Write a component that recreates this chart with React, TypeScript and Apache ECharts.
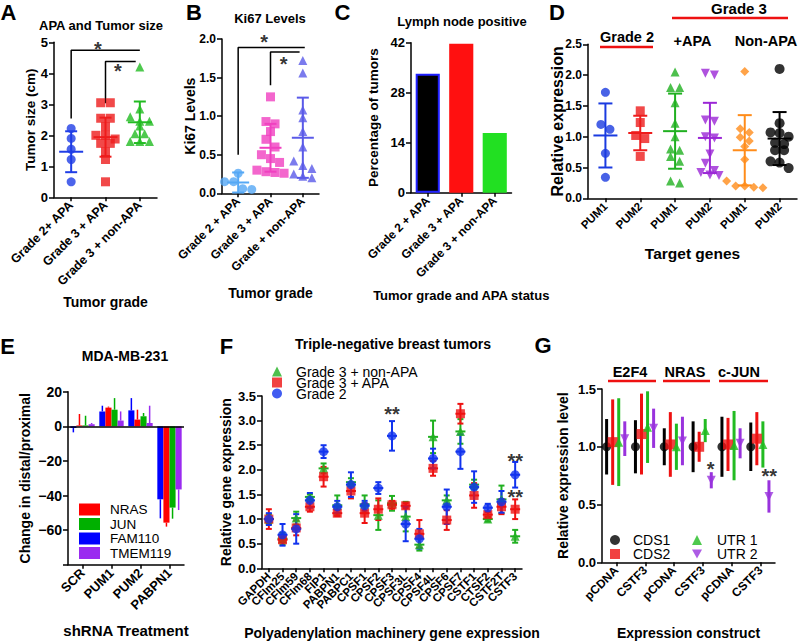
import React, { useEffect, useRef } from "react";
import * as echarts from "echarts";

const FONT = "'Liberation Sans', Arial, Helvetica, sans-serif";

// ---------- Panel A : APA and Tumor size ----------
const A_CATS = ["Grade 2+ APA", "Grade 3 + APA", "Grade 3 + non-APA"];
const A_G2_APA = [2.22, 1.9, 1.55, 1.22, 0.5];
const A_G3_APA = [3.05, 3.05, 2.55, 2.55, 2.28, 2.0, 2.0, 1.88, 1.74, 1.74, 1.47, 1.22, 0.5];
const A_G3_NON = [4.2, 2.85, 2.6, 2.45, 2.45, 2.3, 2.05, 2.05, 1.8, 1.8, 1.8];
const A_MEAN = [1.47, 1.94, 2.42];
const A_SD = [0.66, 0.63, 0.67];

// ---------- Panel B : Ki67 Levels ----------
const B_CATS = ["Grade 2 + APA", "Grade 3 + APA", "Grade + non-APA"];
const B_G2_APA = [0.26, 0.15, 0.15, 0.06, 0.05];
const B_G3_APA = [1.25, 0.93, 0.9, 0.8, 0.7, 0.6, 0.5, 0.45, 0.4, 0.3, 0.28, 0.27, 0.26];
const B_G3_NON = [1.72, 1.56, 1.08, 0.98, 0.8, 0.6, 0.42, 0.36, 0.32, 0.25, 0.22, 0.2];
const B_MEAN = [0.14, 0.59, 0.72];
const B_SD = [0.13, 0.31, 0.52];

// ---------- Panel C : Lymph node positive ----------
const C_CATS = ["Grade 2 + APA", "Grade 3 + APA", "Grade 3 + non-APA"];
const C_PCT = [33.3, 41.7, 16.7];

// ---------- Panel D : PUM1 / PUM2 ----------
const D_CATS = ["PUM1", "PUM2", "PUM1", "PUM2", "PUM1", "PUM2"];
const D_G2_PUM1 = [1.72, 1.2, 1.12, 0.73, 0.34];
const D_G2_PUM2 = [1.42, 1.23, 1.02, 0.97, 0.68];
const D_APA_PUM1 = [2.05, 1.8, 1.8, 1.55, 1.22, 1.0, 0.8, 0.78, 0.68, 0.6, 0.28, 0.25];
const D_APA_PUM2 = [2.03, 2.0, 1.27, 1.25, 1.0, 0.98, 0.72, 0.57, 0.45, 0.42, 0.38, 0.37];
const D_NON_PUM1 = [2.06, 1.13, 1.07, 0.99, 0.93, 0.84, 0.63, 0.28, 0.2, 0.2, 0.18, 0.17];
const D_NON_PUM2 = [2.1, 1.22, 1.07, 1.06, 1.0, 0.9, 0.88, 0.78, 0.78, 0.6, 0.58, 0.49];
const D_MEAN = [1.02, 1.06, 1.09, 0.98, 0.78, 0.97];
const D_SD = [0.52, 0.28, 0.61, 0.57, 0.57, 0.43];

// ---------- Panel E : MDA-MB-231 ----------
const E_CATS = ["SCR", "PUM1", "PUM2", "PABPN1"];
const E_FAM110 = [-1, 8.6, 9.2, -42.2];
const E_FAM110_ERR = [2.5, 3.3, 7.1, 11];
const E_NRAS = [0.5, 10.8, 3.9, -55.7];
const E_NRAS_ERR = [6.6, 0.6, 5.7, 2.3];
const E_JUN = [0.5, 9.6, 5.8, -47];
const E_JUN_ERR = [5.6, 6.7, 1.9, 6.4];
const E_TMEM119 = [1.2, 3.3, 1.9, -36.5];
const E_TMEM119_ERR = [0.7, 5.3, 10, 11.9];

// ---------- Panel F : Triple-negative breast tumors ----------
const F_GENES = ["GAPDH", "CFIm25", "CFIm59", "CFIm68", "FIP1", "PABPN1", "PABPC1", "CPSF1", "CPSF2", "CPSF3",
  "CPSF3L", "CPSF4", "CPSF4L", "CPSF6", "CPSF7", "CSTF1", "CTSF2", "CSTF2T", "CSTF3"];
const F_NON = [1.0, 0.6, 1.02, 1.45, 2.03, 1.28, 1.75, 1.3, 1.08, 1.32, 1.05, 0.48, 2.67, 1.38, 2.78, 1.7, 1.0, 1.4, 0.65];
const F_NON_ERR = [0.1, 0.12, 0.13, 0.05, 0.1, 0.2, 0.08, 0.18, 0.3, 0.15, 0.3, 0.12, 0.33, 0.1, 0.25, 0.1, 0.05, 0.28, 0.13];
const F_APA = [1.0, 0.58, 0.82, 1.25, 1.86, 1.12, 1.57, 1.12, 1.2, 1.29, 1.27, 0.7, 2.03, 0.98, 3.14, 1.48, 1.09, 1.25, 1.2];
const F_APA_ERR = [0.2, 0.05, 0.15, 0.1, 0.2, 0.06, 0.15, 0.2, 0.22, 0.08, 0.05, 0.28, 0.15, 0.2, 0.2, 0.25, 0.05, 0.15, 0.2];
const F_G2 = [1.0, 0.68, 0.8, 1.38, 2.37, 1.25, 1.7, 1.27, 1.63, 2.69, 0.9, 0.6, 2.23, 1.25, 2.37, 1.65, 1.23, 1.35, 1.9];
const F_G2_ERR = [0.12, 0.22, 0.3, 0.15, 0.13, 0.12, 0.25, 0.1, 0.12, 0.3, 0.35, 0.2, 0.2, 0.35, 0.35, 0.32, 0.08, 0.22, 0.26];

// ---------- Panel G : Expression construct ----------
const G_CATS = ["pCDNA", "CSTF3", "pCDNA", "CSTF3", "pCDNA", "CSTF3"];
const G_CDS1 = [1, 1, 1, 1, 1, 1];
const G_CDS1_ERR = [0.24, 0.23, 0.16, 0.22, 0.26, 0.21];
const G_CDS2 = [1.04, 1.11, 1.02, 1.0, 1.02, 1.07];
const G_CDS2_ERR = [0.37, 0.35, 0.28, 0.13, 0.23, 0.23];
const G_UTR1 = [1.04, 1.17, 1.0, 1.14, 1.01, 1.02];
const G_UTR1_ERR = [0.38, 0.31, 0.2, 0.1, 0.3, 0.2];
const G_UTR2 = [1.07, 1.16, 1.05, 0.71, 1.03, 0.57];
const G_UTR2_ERR = [0.15, 0.17, 0.21, 0.07, 0.13, 0.14];

// ---------- helpers ----------
const DOWN_TRI = "path://M0,0L10,0L5,9Z";

function jitter(vals: number[], cat: number, thr: number, step: number): number[][] {
  const s = [...vals].sort((a, b) => b - a);
  const out: number[][] = [];
  let i = 0;
  while (i < s.length) {
    let j = i;
    while (j < s.length && s[i] - s[j] < thr) j++;
    const n = j - i;
    for (let k = 0; k < n; k++) out.push([cat + (k - (n - 1) / 2) * step, s[i + k]]);
    i = j;
  }
  return out;
}

function errRender(color: string, cap: number, meanHalf: number, lw: number) {
  return (_p: any, api: any) => {
    const x = api.value(0), m = api.value(1), s = api.value(2);
    const t = api.coord([x, m + s]);
    const b = api.coord([x, m - s]);
    const c = api.coord([x, m]);
    const st = { stroke: color, lineWidth: lw };
    const ch: any[] = [{ type: "line", shape: { x1: t[0], y1: t[1], x2: b[0], y2: b[1] }, style: st }];
    if (cap > 0) {
      ch.push({ type: "line", shape: { x1: t[0] - cap, y1: t[1], x2: t[0] + cap, y2: t[1] }, style: st });
      ch.push({ type: "line", shape: { x1: b[0] - cap, y1: b[1], x2: b[0] + cap, y2: b[1] }, style: st });
    }
    if (meanHalf > 0) {
      ch.push({ type: "line", shape: { x1: c[0] - meanHalf, y1: c[1], x2: c[0] + meanHalf, y2: c[1] }, style: st });
    }
    return { type: "group", children: ch };
  };
}

function oneSided(color: string) {
  return (_p: any, api: any) => {
    const x = api.value(0), v = api.value(1), e = api.value(2);
    const a = api.coord([x, v]);
    const b = api.coord([x, v + Math.sign(v) * e]);
    return { type: "line", shape: { x1: a[0], y1: a[1], x2: b[0], y2: b[1] }, style: { stroke: color, lineWidth: 1.5 } };
  };
}

function dots(g: number, cat: number, vals: number[], mean: number, sd: number, color: string, symbol: string,
  size: number, thr: number, step: number, cap: number, meanHalf: number) {
  return [
    { type: "scatter", xAxisIndex: 2 * g + 1, yAxisIndex: g, data: jitter(vals, cat, thr, step), symbol, symbolSize: size,
      itemStyle: { color }, z: 3, silent: true, clip: false },
    { type: "custom", xAxisIndex: 2 * g + 1, yAxisIndex: g, data: [[cat, mean, sd]], renderItem: errRender(color, cap, meanHalf, 2),
      z: 4, silent: true, clip: false },
  ];
}

function sig(g: number, pts: [number, number, string][], fontSize = 20) {
  return {
    type: "scatter", xAxisIndex: 2 * g + 1, yAxisIndex: g, symbol: "circle", symbolSize: 1,
    itemStyle: { color: "rgba(0,0,0,0)" }, silent: true, clip: false, z: 6,
    data: pts.map(([x, y, t]) => ({ value: [x, y], name: t })),
    label: { show: true, position: "inside", formatter: (p: any) => p.name, fontSize, fontWeight: "bold", color: "#000", fontFamily: FONT },
  };
}

function bracket(g: number, pts: number[][]) {
  return { type: "line", xAxisIndex: 2 * g + 1, yAxisIndex: g, data: pts, symbol: "none",
    lineStyle: { color: "#000", width: 1.5 }, silent: true, z: 2, clip: false };
}

function catAxis(g: number, data: string[], fs: number, name: string, nameGap: number, nameFs: number) {
  return {
    type: "category", gridIndex: g, data, position: "bottom",
    axisLine: { show: true, onZero: false, lineStyle: { color: "#000", width: 1.5 } },
    axisTick: { show: true, alignWithLabel: true, length: 4, lineStyle: { color: "#000", width: 1.5 } },
    axisLabel: { rotate: 45, interval: 0, color: "#000", fontSize: fs, fontWeight: "bold", fontFamily: FONT, margin: 6 },
    name, nameLocation: "middle", nameGap, nameMoveOverlap: false,
    nameTextStyle: { fontSize: nameFs, fontWeight: "bold", color: "#000", fontFamily: FONT },
  };
}
function valAxis(g: number, n: number) {
  return { type: "value", gridIndex: g, min: -0.5, max: n - 0.5, show: false, position: "top" };
}
function yAx(g: number, min: number, max: number, interval: number, fmt: any, fs: number, name: string, nameGap: number, nameFs: number) {
  return {
    type: "value", gridIndex: g, min, max, interval,
    axisLine: { show: true, onZero: false, lineStyle: { color: "#000", width: 1.5 } },
    axisTick: { show: true, length: 5, lineStyle: { color: "#000", width: 1.5 } },
    splitLine: { show: false },
    axisLabel: { color: "#000", fontSize: fs, fontWeight: "bold", fontFamily: FONT, formatter: fmt, margin: 6 },
    name, nameLocation: "middle", nameGap, nameMoveOverlap: false,
    nameTextStyle: { fontSize: nameFs, fontWeight: "bold", color: "#000", fontFamily: FONT },
  };
}
const f1 = (v: number) => v.toFixed(1);

function txt(text: string, x: number, y: number, size: number, weight = "bold") {
  return { type: "text", x, y, silent: true, z: 10,
    style: { text, fill: "#000", font: `${weight} ${size}px ${FONT}`, textAlign: "center", textVerticalAlign: "middle", align: "center", verticalAlign: "middle" } };
}
function hl(x1: number, x2: number, y: number, color: string) {
  return { type: "line", silent: true, z: 10, shape: { x1, y1: y, x2, y2: y }, style: { stroke: color, lineWidth: 2.5 } };
}

function buildOption(): any {
  const series: any[] = [];

  // A
  series.push(...dots(0, 0, A_G2_APA, A_MEAN[0], A_SD[0], "#1f3de6", "circle", 9, 0.2, 0.28, 6, 12));
  series.push(...dots(0, 1, A_G3_APA, A_MEAN[1], A_SD[1], "#ee1c1c", "rect", 9, 0.2, 0.28, 6, 12));
  series.push(...dots(0, 2, A_G3_NON, A_MEAN[2], A_SD[2], "#22bb22", "triangle", 9, 0.2, 0.28, 6, 12));
  series.push(bracket(0, [[0, 2.54], [0, 4.74], [2, 4.74]]));
  series.push(bracket(0, [[1, 3.03], [1, 4.38], [1.88, 4.38]]));
  series.push(sig(0, [[0.78, 4.8, "*"], [1.36, 4.06, "*"]]));

  // B
  series.push(...dots(1, 0, B_G2_APA, B_MEAN[0], B_SD[0], "#55a8f5", "circle", 9, 0.1, 0.28, 6, 11));
  series.push(...dots(1, 1, B_G3_APA, B_MEAN[1], B_SD[1], "#f040c0", "rect", 9, 0.1, 0.28, 6, 11));
  series.push(...dots(1, 2, B_G3_NON, B_MEAN[2], B_SD[2], "#5a5ae8", "triangle", 9, 0.1, 0.28, 6, 11));
  series.push(bracket(1, [[0, 0.5], [0, 1.89], [2.06, 1.89]]));
  series.push(bracket(1, [[1, 1.4], [1, 1.83], [1.9, 1.83]]));
  series.push(sig(1, [[0.8, 1.96, "*"], [1.41, 1.675, "*"]]));

  // C
  series.push({
    type: "bar", xAxisIndex: 4, yAxisIndex: 2, barWidth: "72%", silent: true,
    data: C_PCT.map((v, i) => ({
      value: v,
      itemStyle: i === 0 ? { color: "#000", borderColor: "#2020ff", borderWidth: 2 }
        : i === 1 ? { color: "#ff1010" } : { color: "#22e022" },
    })),
  });

  // D
  const dCols = ["#1a3be0", "#ee1c1c", "#20b020", "#9b27d6", "#ff8c1a", "#000000"];
  const dSyms = ["circle", "rect", "triangle", DOWN_TRI, "diamond", "circle"];
  const dVals = [D_G2_PUM1, D_G2_PUM2, D_APA_PUM1, D_APA_PUM2, D_NON_PUM1, D_NON_PUM2];
  dVals.forEach((vals, i) => {
    series.push(...dots(3, i, vals, D_MEAN[i], D_SD[i], dCols[i], dSyms[i], i === 5 ? 10 : 9, 0.12, 0.26, 7, 12));
  });

  // E
  const eSeries = [
    { name: "FAM110", vals: E_FAM110, err: E_FAM110_ERR, color: "#0000ff" },
    { name: "NRAS", vals: E_NRAS, err: E_NRAS_ERR, color: "#ff0000" },
    { name: "JUN", vals: E_JUN, err: E_JUN_ERR, color: "#00b000" },
    { name: "TMEM119", vals: E_TMEM119, err: E_TMEM119_ERR, color: "#9a2bf0" },
  ];
  const bw = 0.84 / 4;
  eSeries.forEach((s, i) => {
    series.push({
      type: "bar", name: s.name, xAxisIndex: 8, yAxisIndex: 4, data: s.vals, barGap: "0%", barCategoryGap: "16%",
      itemStyle: { color: s.color }, silent: true, z: 2,
      ...(i === 0 ? { markLine: { symbol: "none", silent: true, label: { show: false }, lineStyle: { color: "#000", width: 1.5, type: "solid" }, data: [{ yAxis: 0 }] } } : {}),
    });
    series.push({
      type: "custom", xAxisIndex: 9, yAxisIndex: 4, silent: true, z: 3,
      data: s.vals.map((v, c) => [c + (i - 1.5) * bw, v, s.err[c]]),
      renderItem: oneSided(s.color),
    });
  });

  // F
  const fSeries = [
    { name: "Grade 3 + non-APA", vals: F_NON, err: F_NON_ERR, color: "#20b020", symbol: "triangle" },
    { name: "Grade 3 + APA", vals: F_APA, err: F_APA_ERR, color: "#ee1111", symbol: "rect" },
    { name: "Grade 2", vals: F_G2, err: F_G2_ERR, color: "#1133ee", symbol: "circle" },
  ];
  fSeries.forEach((s) => {
    series.push({
      type: "custom", xAxisIndex: 11, yAxisIndex: 5, silent: true, z: 2,
      data: s.vals.map((v, c) => [c, v, s.err[c]]), renderItem: errRender(s.color, 3, 5, 2),
    });
    series.push({
      type: "scatter", name: s.name, xAxisIndex: 11, yAxisIndex: 5, symbol: s.symbol, symbolSize: 9,
      itemStyle: { color: s.color }, silent: true, z: 3, data: s.vals.map((v, c) => [c, v]),
    });
  });
  series.push(sig(5, [[9, 3.14, "**"], [18, 2.18, "**"], [18, 1.45, "**"]]));

  // G
  const gOff = [-0.34, -0.13, 0.08, 0.29];
  const gSeries = [
    { name: "CDS1", vals: G_CDS1, err: G_CDS1_ERR, color: "#000000", symbol: "circle", size: 9 },
    { name: "CDS2", vals: G_CDS2, err: G_CDS2_ERR, color: "#ee1111", symbol: "rect", size: 10 },
    { name: "UTR 1", vals: G_UTR1, err: G_UTR1_ERR, color: "#22bb22", symbol: "triangle", size: 9 },
    { name: "UTR 2", vals: G_UTR2, err: G_UTR2_ERR, color: "#9933dd", symbol: DOWN_TRI, size: 9 },
  ];
  gSeries.forEach((s, i) => {
    series.push({
      type: "custom", xAxisIndex: 13, yAxisIndex: 6, silent: true, z: 2,
      data: s.vals.map((v, c) => [c + gOff[i], v, s.err[c]]), renderItem: errRender(s.color, 0, 0, 3),
    });
    series.push({
      type: "scatter", name: s.name, xAxisIndex: 13, yAxisIndex: 6, symbol: s.symbol, symbolSize: s.size,
      itemStyle: { color: s.color }, silent: true, z: 3, data: s.vals.map((v, c) => [c + gOff[i], v]),
    });
  });
  series.push(sig(6, [[3.27, 0.81, "*"], [5.3, 0.75, "**"]]));

  const legendText = (fs: number, lh: number, pad: number) => ({
    fontSize: fs, color: "#000", fontFamily: FONT, lineHeight: lh, padding: [0, 0, 0, pad],
  });

  return {
    animation: false,
    backgroundColor: "#ffffff",
    textStyle: { fontFamily: FONT },
    grid: [
      { left: 54, top: 42.3, width: 103, height: 155 },
      { left: 222, top: 39, width: 97, height: 154.3 },
      { left: 411, top: 42.7, width: 100.5, height: 150 },
      { left: 588, top: 44.3, width: 209, height: 154 },
      { left: 68, top: 391.7, width: 116, height: 173 },
      { left: 262, top: 396, width: 260, height: 172.3 },
      { left: 602, top: 389, width: 173, height: 173.3 },
    ],
    xAxis: [
      catAxis(0, A_CATS, 12.5, "Tumor grade", 98, 14), valAxis(0, 3),
      catAxis(1, B_CATS, 12, "Tumor grade", 93, 14), valAxis(1, 3),
      catAxis(2, C_CATS, 12, "Tumor grade and APA status", 96, 13), valAxis(2, 3),
      catAxis(3, D_CATS, 11.5, "Target genes", 47, 15.5), valAxis(3, 6),
      catAxis(4, E_CATS, 13, "shRNA Treatment", 58, 15), valAxis(4, 4),
      catAxis(5, F_GENES, 11.5, "Polyadenylation machinery gene expression", 58, 14), valAxis(5, 19),
      catAxis(6, G_CATS, 12, "Expression construct", 64, 14), valAxis(6, 6),
    ],
    yAxis: [
      yAx(0, 0, 5, 1, null, 13, "Tumor size (cm)", 17, 13.5),
      yAx(1, 0, 2, 0.5, f1, 12, "Ki67 Levels", 25, 14),
      yAx(2, 0, 42, 14, null, 13, "Percentage of tumors", 31, 13.5),
      yAx(3, 0, 2.5, 0.5, f1, 12, "Relative expression", 23, 16),
      yAx(4, -80, 20, 20, (v: number) => (v === -80 ? "" : String(v).replace("-", "\u2212")), 14, "Change in distal/proximal", 36, 14),
      yAx(5, 0, 3.5, 0.5, f1, 13, "Relative gene expression", 29, 14),
      yAx(6, 0, 1.5, 0.5, f1, 13, "Relative expression level", 32, 14),
    ],
    legend: [
      { data: ["NRAS", "JUN", "FAM110", "TMEM119"], orient: "vertical", left: 79, top: 502.5, padding: 0,
        itemWidth: 21, itemHeight: 12, itemGap: 0.5, icon: "rect", textStyle: legendText(13.5, 13, 5), selectedMode: false },
      { data: ["Grade 3 + non-APA", "Grade 3 + APA", "Grade 2"], orient: "vertical", left: 272, top: 364.5, padding: 0,
        itemWidth: 10, itemHeight: 10, itemGap: -3, textStyle: legendText(14, 12, 9), selectedMode: false },
      { data: ["CDS1", "CDS2"], orient: "vertical", left: 610, top: 533, padding: 0,
        itemWidth: 10, itemHeight: 10, itemGap: 0, textStyle: legendText(14, 11.5, 8), selectedMode: false },
      { data: ["UTR 1", "UTR 2"], orient: "vertical", left: 692, top: 533, padding: 0,
        itemWidth: 10, itemHeight: 10, itemGap: 0, textStyle: legendText(14, 11.5, 10), selectedMode: false },
    ],
    graphic: [
      txt("A", 8.5, 12, 22), txt("B", 194, 12, 22), txt("C", 342.5, 12, 22), txt("D", 557, 12.5, 22),
      txt("E", 7.5, 346.5, 22), txt("F", 226.5, 346.5, 22), txt("G", 543, 345, 22),
      txt("APA and Tumor size", 101, 25, 13), txt("Ki67 Levels", 270, 18, 13), txt("Lymph node positive", 462, 21, 13),
      txt("MDA-MB-231", 125, 356, 14), txt("Triple-negative breast tumors", 393, 344, 14),
      txt("Grade 3", 739, 8.5, 15), txt("Grade 2", 627, 36.5, 14.5), txt("+APA", 692.5, 41, 14.5), txt("Non-APA", 766, 41, 14.5),
      hl(672, 788, 18, "#ee1111"), hl(600, 653, 47, "#ee1111"),
      txt("E2F4", 630, 372, 14.5), txt("NRAS", 685, 372, 14.5), txt("c-JUN", 739, 372, 14.5),
      hl(608, 656, 381, "#ee1111"), hl(663, 710, 381, "#ee1111"), hl(719, 768, 381, "#ee1111"),
    ],
    series,
  };
}

export default function App() {
  const ref = useRef<HTMLDivElement>(null);
  useEffect(() => {
    document.body.style.margin = "0";
    const chart = echarts.init(ref.current!, null, { renderer: "svg" });
    chart.setOption(buildOption());
    return () => chart.dispose();
  }, []);
  return <div ref={ref} style={{ width: 800, height: 642 }} />;
}
